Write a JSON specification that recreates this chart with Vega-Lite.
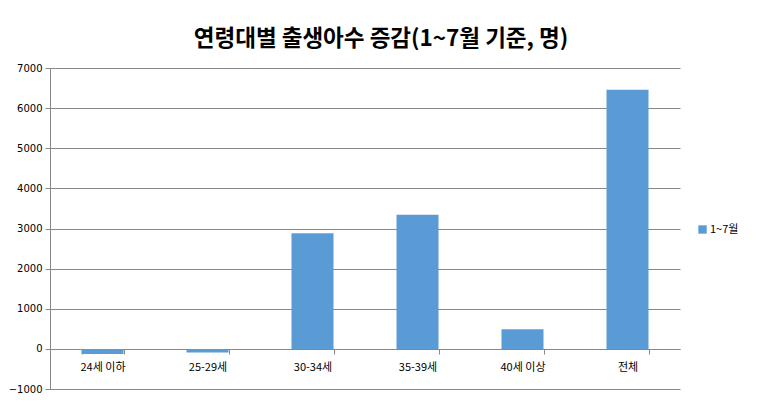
{
  "$schema": "https://vega.github.io/schema/vega-lite/v6.json",
  "width": 630,
  "height": 321,
  "autosize": {"type": "none"},
  "padding": {"left": 50, "top": 68, "right": 87, "bottom": 23},
  "background": "white",
  "title": {
    "text": "연령대별 출생아수 증감(1~7월 기준, 명)",
    "font": "Noto Sans CJK KR",
    "fontSize": 22.5,
    "fontWeight": "bold",
    "color": "#000000",
    "anchor": "middle",
    "dx": 16,
    "offset": 13
  },
  "data": {
    "values": [
      {"group": "24세 이하", "series": "1~7월", "value": -130},
      {"group": "25-29세", "series": "1~7월", "value": -90},
      {"group": "30-34세", "series": "1~7월", "value": 2880},
      {"group": "35-39세", "series": "1~7월", "value": 3340},
      {"group": "40세 이상", "series": "1~7월", "value": 490},
      {"group": "전체", "series": "1~7월", "value": 6460}
    ]
  },
  "mark": {"type": "bar"},
  "encoding": {
    "x": {
      "field": "group",
      "type": "nominal",
      "sort": null,
      "scale": {"paddingInner": 0.6, "paddingOuter": 0.3},
      "axis": {
        "title": null,
        "labelAngle": 0,
        "labelFont": "Noto Sans CJK KR",
        "labelFontSize": 11,
        "labelColor": "#000000",
        "labelPadding": 7,
        "offset": -40,
        "domainColor": "#888888",
        "tickColor": "#888888",
        "tickBand": "extent",
        "tickSize": 5,
        "grid": false
      }
    },
    "y": {
      "field": "value",
      "type": "quantitative",
      "scale": {"domain": [-1000, 7000], "nice": false, "zero": false},
      "axis": {
        "title": null,
        "format": "d",
        "values": [-1000, 0, 1000, 2000, 3000, 4000, 5000, 6000, 7000],
        "labelFont": "DejaVu Sans",
        "labelFontSize": 10,
        "labelColor": "#000000",
        "labelPadding": 3,
        "domainColor": "#888888",
        "tickColor": "#888888",
        "tickSize": 5,
        "gridColor": "#888888",
        "gridWidth": 1
      }
    },
    "color": {
      "field": "series",
      "type": "nominal",
      "scale": {"range": ["#5B9BD5"]},
      "legend": {
        "title": null,
        "orient": "none",
        "legendX": 647,
        "legendY": 156,
        "symbolType": "square",
        "symbolSize": 70,
        "labelFont": "Noto Sans CJK KR",
        "labelFontSize": 11,
        "labelColor": "#000000",
        "labelOffset": 2
      }
    }
  },
  "config": {
    "view": {"stroke": null}
  }
}
